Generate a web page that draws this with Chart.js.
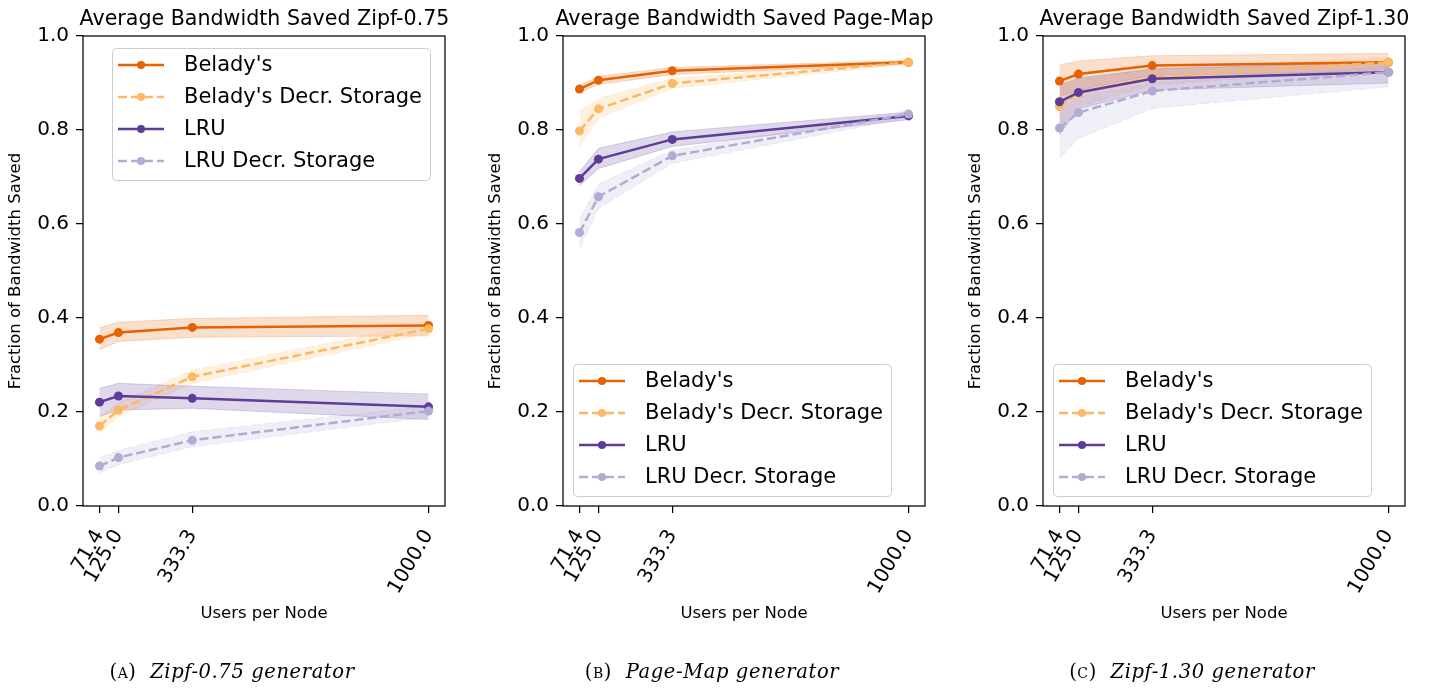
<!DOCTYPE html>
<html>
<head>
<meta charset="utf-8">
<script src="https://cdn.jsdelivr.net/npm/chart.js@4.4.1/dist/chart.umd.min.js"></script>
<style>
  body { margin: 0; background: #fff; width: 1438px; height: 688px; overflow: hidden; position: relative; }
  .panel { position: absolute; top: 0; width: 480px; height: 688px; }
  .caption { position: absolute; top: 660px; width: 464px; text-align: center;
             font-family: "DejaVu Serif"; font-size: 19.5px; letter-spacing: 0.6px; color: #000; }
  .caption .sc { font-style: normal; font-variant: small-caps; }
</style>
</head>
<body>

<canvas id="chartA" class="panel" width="480" height="688" style="left:0px"></canvas>
<canvas id="chartB" class="panel" width="480" height="688" style="left:480px"></canvas>
<canvas id="chartC" class="panel" width="480" height="688" style="left:960px"></canvas>

<div class="caption" style="left:0px"><span class="sc">(a)</span>&nbsp; <i>Zipf-0.75 generator</i></div>
<div class="caption" style="left:480px"><span class="sc">(b)</span>&nbsp; <i>Page-Map generator</i></div>
<div class="caption" style="left:960px"><span class="sc">(c)</span>&nbsp; <i>Zipf-1.30 generator</i></div>

<script>

// data

const usersPerNode = [71.4, 125.0, 333.3, 1000.0];
const yTicks = [0, 0.2, 0.4, 0.6, 0.8, 1.0];

const seriesNames = ["Belady's", "Belady's Decr. Storage", "LRU", "LRU Decr. Storage"];
const seriesColors = ['#e66101', '#fdb863', '#5e3c99', '#b2abd2'];

const panelTitles = [
  'Average Bandwidth Saved Zipf-0.75',
  'Average Bandwidth Saved Page-Map',
  'Average Bandwidth Saved Zipf-1.30'
];

// Zipf-0.75
const zipf075Belady      = [0.355, 0.369, 0.380, 0.384];
const zipf075BeladyLow   = [0.333, 0.350, 0.359, 0.362];
const zipf075BeladyHigh  = [0.379, 0.391, 0.399, 0.406];
const zipf075BeladyDecr      = [0.170, 0.204, 0.275, 0.377];
const zipf075BeladyDecrLow   = [0.156, 0.190, 0.261, 0.367];
const zipf075BeladyDecrHigh  = [0.187, 0.220, 0.289, 0.389];
const zipf075Lru      = [0.221, 0.234, 0.229, 0.211];
const zipf075LruLow   = [0.191, 0.204, 0.208, 0.184];
const zipf075LruHigh  = [0.250, 0.261, 0.255, 0.238];
const zipf075LruDecr      = [0.085, 0.103, 0.140, 0.202];
const zipf075LruDecrLow   = [0.070, 0.088, 0.126, 0.189];
const zipf075LruDecrHigh  = [0.102, 0.118, 0.158, 0.213];

// Page-Map
const pageMapBelady      = [0.887, 0.906, 0.926, 0.944];
const pageMapBeladyLow   = [0.880, 0.897, 0.918, 0.940];
const pageMapBeladyHigh  = [0.894, 0.914, 0.933, 0.948];
const pageMapBeladyDecr      = [0.798, 0.845, 0.899, 0.944];
const pageMapBeladyDecrLow   = [0.765, 0.825, 0.889, 0.940];
const pageMapBeladyDecrHigh  = [0.839, 0.867, 0.910, 0.948];
const pageMapLru      = [0.697, 0.738, 0.780, 0.830];
const pageMapLruLow   = [0.681, 0.718, 0.765, 0.822];
const pageMapLruHigh  = [0.711, 0.761, 0.796, 0.838];
const pageMapLruDecr      = [0.582, 0.658, 0.745, 0.834];
const pageMapLruDecrLow   = [0.548, 0.633, 0.729, 0.826];
const pageMapLruDecrHigh  = [0.609, 0.685, 0.757, 0.841];

// Zipf-1.30
const zipf130Belady      = [0.904, 0.919, 0.937, 0.944];
const zipf130BeladyLow   = [0.871, 0.885, 0.917, 0.924];
const zipf130BeladyHigh  = [0.938, 0.947, 0.958, 0.963];
const zipf130BeladyDecr      = [0.850, 0.878, 0.913, 0.944];
const zipf130BeladyDecrLow   = [0.800, 0.850, 0.895, 0.932];
const zipf130BeladyDecrHigh  = [0.890, 0.905, 0.930, 0.955];
const zipf130Lru      = [0.860, 0.880, 0.909, 0.923];
const zipf130LruLow   = [0.790, 0.845, 0.885, 0.900];
const zipf130LruHigh  = [0.895, 0.910, 0.930, 0.945];
const zipf130LruDecr      = [0.804, 0.837, 0.883, 0.923];
const zipf130LruDecrLow   = [0.740, 0.782, 0.846, 0.892];
const zipf130LruDecrHigh  = [0.840, 0.870, 0.900, 0.935];


// helpers

const FONT = '"DejaVu Sans"';
const xSpan = usersPerNode[usersPerNode.length - 1] - usersPerNode[0];
const xMin = usersPerNode[0] - 0.05 * xSpan;
const xMax = usersPerNode[usersPerNode.length - 1] + 0.05 * xSpan;

function rgba(hex, a) {
  const n = parseInt(hex.slice(1), 16);
  return `rgba(${n >> 16}, ${(n >> 8) & 255}, ${n & 255}, ${a})`;
}

function points(values) {
  return usersPerNode.map((x, j) => ({ x: x, y: values[j] }));
}

function buildDatasets(means, lows, highs) {
  const bands = [];
  const lines = [];
  seriesNames.forEach((name, i) => {
    const color = seriesColors[i];
    const dash = i % 2 === 1 ? [9, 4] : [];
    bands.push({
      data: points(highs[i]), fill: '+1',
      backgroundColor: rgba(color, 0.2), borderColor: rgba(color, 0.22),
      borderWidth: 1, borderDash: dash, pointRadius: 0, order: 20 - i
    });
    bands.push({
      data: points(lows[i]), fill: false,
      borderColor: rgba(color, 0.22),
      borderWidth: 1, borderDash: dash, pointRadius: 0, order: 20 - i
    });
    lines.push({
      label: name, data: points(means[i]), fill: false,
      borderColor: color, backgroundColor: color, borderWidth: 2.5, borderDash: dash,
      pointRadius: 4.5, pointBorderWidth: 0, pointBackgroundColor: color,
      order: 10 - i
    });
  });
  return bands.concat(lines);
}

// frame, title and legend in matplotlib style
const mplPlugin = {
  id: 'mpl',
  afterDatasetsDraw(chart, args, opts) {
    const { ctx, chartArea: a } = chart;
    ctx.save();
    ctx.font = '21px ' + FONT;
    const textW = Math.max(...seriesNames.map(n => ctx.measureText(n).width));
    const w = 72 + textW + 8;
    const h = 132;
    const left = a.left + opts.legendX;
    const top = opts.legendY >= 0 ? a.top + opts.legendY : a.bottom + opts.legendY - h;

    ctx.beginPath();
    ctx.roundRect(left + 0.5, top + 0.5, w, h, 4);
    ctx.fillStyle = 'rgba(255,255,255,0.8)';
    ctx.fill();
    ctx.strokeStyle = '#cccccc';
    ctx.lineWidth = 1;
    ctx.stroke();

    seriesNames.forEach((name, i) => {
      const y = top + 17 + 32 * i;
      ctx.strokeStyle = seriesColors[i];
      ctx.lineWidth = 2.5;
      ctx.setLineDash(i % 2 === 1 ? [9, 4] : []);
      ctx.beginPath();
      ctx.moveTo(left + 6, y);
      ctx.lineTo(left + 52, y);
      ctx.stroke();
      ctx.setLineDash([]);
      ctx.fillStyle = seriesColors[i];
      ctx.beginPath();
      ctx.arc(left + 29, y, 4, 0, Math.PI * 2);
      ctx.fill();
      ctx.fillStyle = '#000';
      ctx.textAlign = 'left';
      ctx.textBaseline = 'middle';
      ctx.fillText(name, left + 72, y + 1);
    });
    ctx.restore();
  },
  afterDraw(chart, args, opts) {
    const { ctx, chartArea: a } = chart;
    ctx.save();
    ctx.strokeStyle = '#000';
    ctx.lineWidth = 1.25;
    ctx.strokeRect(a.left, a.top, a.right - a.left, a.bottom - a.top);
    ctx.fillStyle = '#000';
    ctx.font = '20.6px ' + FONT;
    ctx.textAlign = 'center';
    ctx.textBaseline = 'alphabetic';
    ctx.fillText(opts.title, (a.left + a.right) / 2 + 0.5, 25);
    ctx.restore();
  }
};

function makeChart(id, title, means, lows, highs, legendX, legendY) {
  const tickGrid = {
    display: true, drawOnChartArea: false, drawTicks: true,
    tickLength: 7, color: '#000', lineWidth: 1.25
  };
  return new Chart(document.getElementById(id), {
    type: 'line',
    data: { datasets: buildDatasets(means, lows, highs) },
    options: {
      responsive: false,
      animation: false,
      events: [],
      layout: { padding: { left: 0, top: 36, right: 35, bottom: 60 } },
      plugins: {
        legend: { display: false },
        tooltip: { enabled: false },
        mpl: { title: title, legendX: legendX, legendY: legendY }
      },
      scales: {
        x: {
          type: 'linear', min: xMin, max: xMax,
          afterBuildTicks: s => { s.ticks = usersPerNode.map(v => ({ value: v })); },
          afterFit: s => { s.height = 122; },
          ticks: {
            autoSkip: false, minRotation: 60, maxRotation: 60, padding: 15,
            color: '#000', font: { family: FONT, size: 20, lineHeight: 0.75 },
            callback: v => Number(v).toFixed(1)
          },
          grid: tickGrid,
          border: { display: false },
          title: {
            display: true, text: 'Users per Node', color: '#000',
            font: { family: FONT, size: 16.5 }, padding: { top: 0, bottom: 4 }
          }
        },
        y: {
          min: 0, max: 1,
          afterBuildTicks: s => { s.ticks = yTicks.map(v => ({ value: v })); },
          afterFit: s => { s.width = 83; },
          ticks: {
            padding: 7, color: '#000', font: { family: FONT, size: 20 },
            callback: v => Number(v).toFixed(1)
          },
          grid: tickGrid,
          border: { display: false },
          title: {
            display: true, text: 'Fraction of Bandwidth Saved', color: '#000',
            font: { family: FONT, size: 16.5 }, padding: { top: 6, bottom: 0 }
          }
        }
      }
    },
    plugins: [mplPlugin]
  });
}

makeChart('chartA', panelTitles[0],
  [zipf075Belady, zipf075BeladyDecr, zipf075Lru, zipf075LruDecr],
  [zipf075BeladyLow, zipf075BeladyDecrLow, zipf075LruLow, zipf075LruDecrLow],
  [zipf075BeladyHigh, zipf075BeladyDecrHigh, zipf075LruHigh, zipf075LruDecrHigh],
  29, 12);

makeChart('chartB', panelTitles[1],
  [pageMapBelady, pageMapBeladyDecr, pageMapLru, pageMapLruDecr],
  [pageMapBeladyLow, pageMapBeladyDecrLow, pageMapLruLow, pageMapLruDecrLow],
  [pageMapBeladyHigh, pageMapBeladyDecrHigh, pageMapLruHigh, pageMapLruDecrHigh],
  10, -10);

makeChart('chartC', panelTitles[2],
  [zipf130Belady, zipf130BeladyDecr, zipf130Lru, zipf130LruDecr],
  [zipf130BeladyLow, zipf130BeladyDecrLow, zipf130LruLow, zipf130LruDecrLow],
  [zipf130BeladyHigh, zipf130BeladyDecrHigh, zipf130LruHigh, zipf130LruDecrHigh],
  10, -10);

</script>
</body>
</html>
